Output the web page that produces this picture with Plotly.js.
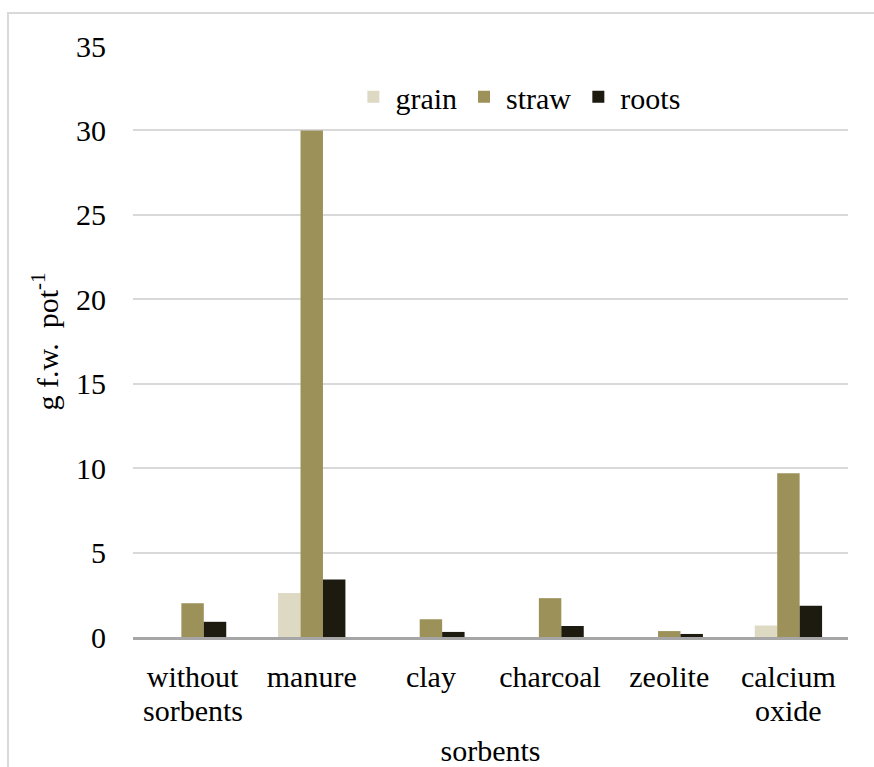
<!DOCTYPE html>
<html>
<head>
<meta charset="utf-8">
<script src="https://cdn.plot.ly/plotly-3.0.1.min.js"></script>
<style>
  html, body { margin: 0; padding: 0; background: #ffffff; overflow: hidden; }
  #frame { position: absolute; left: 7px; top: 12px; width: 900px; height: 800px; border: 2px solid #d9d9d9; box-sizing: border-box; }
  #chart { position: absolute; left: 0; top: 0; width: 874px; height: 767px; }
</style>
</head>
<body>
<div id="frame"></div>
<div id="chart"></div>
<script>
const categories = ["without sorbents", "manure", "clay", "charcoal", "zeolite", "calcium oxide"];
const tickLine1 = ["without", "manure", "clay", "charcoal", "zeolite", "calcium"];
const tickLine2 = ["sorbents", "", "", "", "", "oxide"];
const grain = [0, 2.6, 0, 0, 0, 0.68];
const straw = [2.0, 30.0, 1.05, 2.3, 0.35, 9.7];
const roots = [0.9, 3.4, 0.3, 0.65, 0.18, 1.85];
const yTicks = [0, 5, 10, 15, 20, 25, 30, 35];

function F() { return { family: "'Liberation Serif', 'Times New Roman', Times, serif", size: 30, color: "#000000" }; }

const traces = [
  { type: "bar", name: "grain", x: categories, y: grain, marker: { color: "#ddd9c3" } },
  { type: "bar", name: "straw", x: categories, y: straw, marker: { color: "#9c9259" } },
  { type: "bar", name: "roots", x: categories, y: roots, marker: { color: "#1d1b10" } }
];

const annotations = [];
categories.forEach((c, i) => {
  if (tickLine2[i]) {
    annotations.push({
      x: c, xref: "x", y: -0.124, yref: "paper", yanchor: "middle", xanchor: "center",
      text: tickLine2[i], showarrow: false, font: F()
    });
  }
});

const layout = {
  width: 874, height: 767,
  margin: { l: 133, r: 26, t: 46, b: 130 },
  paper_bgcolor: "rgba(0,0,0,0)",
  plot_bgcolor: "rgba(0,0,0,0)",
  font: F(),
  barmode: "group",
  bargap: 0.435,
  bargroupgap: 0,
  showlegend: true,
  legend: {
    orientation: "h", x: 0.539, xanchor: "center", y: 0.914, yanchor: "middle",
    font: F(), bgcolor: "rgba(0,0,0,0)", itemwidth: 34, traceorder: "normal"
  },
  annotations: annotations,
  xaxis: {
    type: "category",
    tickvals: categories,
    ticktext: tickLine1,
    showgrid: false,
    showline: true, linecolor: "#a6a6a6", linewidth: 3,
    ticks: "", tickfont: F(),
    ticklabelstandoff: 11,
    title: { text: "sorbents", font: F(), standoff: 58 }
  },
  yaxis: {
    range: [0, 35],
    tickvals: yTicks,
    ticktext: yTicks.map(String),
    showgrid: true, gridcolor: "#d9d9d9", gridwidth: 2,
    zeroline: false, showline: false,
    ticks: "", ticklen: 0, tickfont: F(),
    ticklabelstandoff: 26,
    title: { text: "g f.w.  pot<sup>-1</sup>", font: F(), standoff: 8 }
  }
};

Plotly.newPlot("chart", traces, layout, { displayModeBar: false, staticPlot: true });
</script>
</body>
</html>
